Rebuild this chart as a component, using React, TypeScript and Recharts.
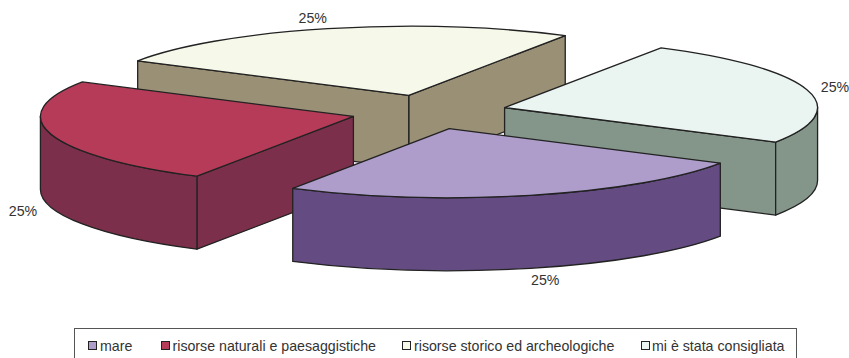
import React from "react";
import { PieChart, Pie, Legend } from "recharts";

const categories = ["mare", "risorse naturali e paesaggistiche", "risorse storico ed archeologiche", "mi è stata consigliata"];
const shares = [25, 25, 25, 25];
const topColors = ["#AE9CCB", "#B63B59", "#F6F9EA", "#EAF5F2"];
const wallColors = ["#644C83", "#7C2F4A", "#9A9076", "#84958A"];
// back-to-front painting order (indexes into categories)
const paintOrder = [2, 3, 1, 0];
const legendMarkerX = [13, 86, 327, 566];
const legendTextX = [25, 97.5, 339, 577];

const W = 849;
const H = 358;
const CX = 429;
const CY = 112;
const RX = 313;
const RY = 69;
const DEPTH = 73;
const EXPLODE = 0.25;
const STROKE = "#222222";
const FONT = "'Liberation Sans', Arial, sans-serif";
const FONT_SIZE = 14.2;

const data = categories.map((name, i) => ({ name, value: shares[i], top: topColors[i], wall: wallColors[i] }));

const pt = (cx: number, cy: number, deg: number, rx: number) => {
  const a = (deg * Math.PI) / 180;
  const ry = (rx * RY) / RX;
  return { x: cx + rx * Math.cos(a), y: cy - ry * Math.sin(a) };
};
const sinDeg = (d: number) => Math.sin((d * Math.PI) / 180);

const SliceShape = (props: any) => {
  const { cx, cy, outerRadius: r, startAngle, endAngle, midAngle, index, layer, payload } = props;
  if (index !== layer) return <g />;
  const hi = Math.max(startAngle, endAngle);
  const lo = Math.min(startAngle, endAngle);
  const mid = midAngle ?? (hi + lo) / 2;
  const off = pt(0, 0, mid, r * EXPLODE);
  const ox = cx + off.x;
  const oy = cy + off.y;
  const ry = (r * RY) / RX;
  const A = pt(ox, oy, lo, r);
  const B = pt(ox, oy, hi, r);
  const large = hi - lo > 180 ? 1 : 0;
  const top = `M${ox},${oy} L${A.x},${A.y} A${r},${ry} 0 ${large} 0 ${B.x},${B.y} Z`;
  const cut = (p: { x: number; y: number }) =>
    `M${ox},${oy} L${p.x},${p.y} L${p.x},${p.y + DEPTH} L${ox},${oy + DEPTH} Z`;
  // the cut faces are seen only when they face the viewer
  const showA = sinDeg(lo - 90) < 0;
  const showB = sinDeg(hi + 90) < 0;
  // the outer wall: part of the rim on the lower half of the ellipse
  const ranges = [
    [Math.max(lo, 180), Math.min(hi, 360)],
    [Math.max(lo, -180), Math.min(hi, 0)],
  ].filter(([a, b]) => b > a);
  const wall = payload?.wall ?? props.wall;
  return (
    <g stroke={STROKE} strokeWidth={1.3} strokeLinejoin="round">
      {showA && <path d={cut(A)} fill={wall} />}
      {showB && <path d={cut(B)} fill={wall} />}
      {ranges.map(([a, b], i) => {
        const p = pt(ox, oy, a, r);
        const q = pt(ox, oy, b, r);
        return (
          <path
            key={i}
            d={`M${p.x},${p.y} A${r},${ry} 0 0 0 ${q.x},${q.y} L${q.x},${q.y + DEPTH} A${r},${ry} 0 0 1 ${p.x},${p.y + DEPTH} Z`}
            fill={wall}
          />
        );
      })}
      <path d={top} fill={payload?.top ?? props.top} />
    </g>
  );
};

const makeLabel = (layer: number) => (props: any) => {
  const { cx, cy, outerRadius: r, midAngle, percent, index } = props;
  if (index !== layer) return null;
  const off = pt(0, 0, midAngle, r * EXPLODE);
  const rim = pt(0, 0, midAngle, r);
  const sx = Math.sign(rim.x);
  const x = cx + off.x + rim.x + sx * (10.2 + 0.059 * Math.abs(rim.x));
  const wallBelow = (rim.y > 0 && Math.abs(rim.x) < 200) || (rim.x < -200);
  const y = cy + off.y + rim.y + rim.y * 0.165 + (wallBelow ? DEPTH + 1 : 0);
  return (
    <text x={x} y={y} textAnchor="middle" dominantBaseline="central" fontFamily={FONT} fontSize={FONT_SIZE} fill="#333">
      {`${Math.round(percent * 100)}%`}
    </text>
  );
};

const LegendBox = () => (
  <div
    style={{
      position: "relative",
      width: 723,
      height: 34,
      boxSizing: "border-box",
      border: "1px solid #555",
      background: "#fff",
      fontFamily: FONT,
      fontSize: FONT_SIZE,
      color: "#333",
    }}
  >
    {categories.map((c, i) => (
      <React.Fragment key={c}>
        <span
          style={{
            position: "absolute",
            left: legendMarkerX[i],
            top: 12,
            width: 9,
            height: 9,
            boxSizing: "border-box",
            background: topColors[i],
            border: "1px solid #222",
          }}
        />
        <span style={{ position: "absolute", left: legendTextX[i], top: 9, whiteSpace: "nowrap", lineHeight: "16px" }}>{c}</span>
      </React.Fragment>
    ))}
  </div>
);

export default function App() {
  return (
    <div style={{ position: "absolute", left: 0, top: 0, width: W, height: H, overflow: "hidden", background: "#fff" }}>
      <PieChart width={W} height={H} margin={{ top: 0, right: 0, bottom: 0, left: 0 }}>
        {paintOrder.map((layer) => (
          <Pie
            key={layer}
            data={data}
            dataKey="value"
            nameKey="name"
            cx={CX}
            cy={CY}
            innerRadius={0}
            outerRadius={RX}
            startAngle={330}
            endAngle={-30}
            isAnimationActive={false}
            shape={(p: any) => <SliceShape {...p} layer={layer} />}
            label={makeLabel(layer)}
            labelLine={false}
          />
        ))}
        <Legend
          content={<LegendBox />}
          wrapperStyle={{ position: "absolute", left: 74, top: 328, bottom: "auto", width: 723, height: 34 }}
        />
      </PieChart>
    </div>
  );
}
